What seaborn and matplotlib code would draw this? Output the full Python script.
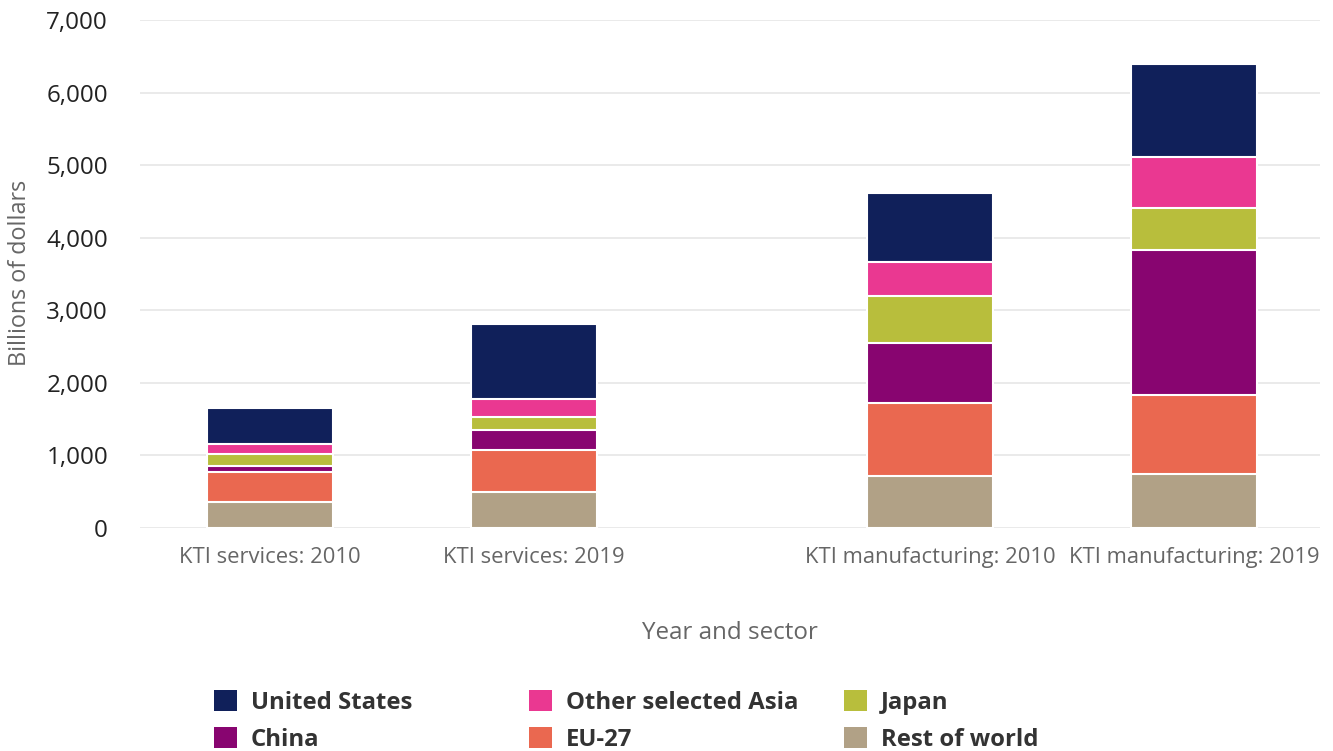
import matplotlib
matplotlib.use("Agg")
import matplotlib.pyplot as plt
from matplotlib.patches import Patch
from matplotlib.ticker import StrMethodFormatter
import numpy as np
import seaborn as sns

categories = ["KTI services: 2010", "KTI services: 2019",
              "KTI manufacturing: 2010", "KTI manufacturing: 2019"]
# stack order, bottom to top
rest_of_world = [357, 496, 718, 746]
eu27 = [417, 583, 1000, 1083]
china = [83, 278, 833, 2000]
japan = [167, 167, 639, 581]
other_asia = [139, 250, 472, 697]
united_states = [486, 1041, 959, 1292]

series = [
    ("Rest of world", rest_of_world, "#b1a186"),
    ("EU-27", eu27, "#ea6850"),
    ("China", china, "#880570"),
    ("Japan", japan, "#b8be3c"),
    ("Other selected Asia", other_asia, "#ea3891"),
    ("United States", united_states, "#10205a"),
]

# gap between the services and the manufacturing group
xpos = [0, 1, 2.5, 3.5]

sns.set_style("white")
plt.rcParams['font.family'] = ['Open Sans', 'DejaVu Sans']

fig = plt.figure(figsize=(13.33, 7.51), dpi=100)
ax = fig.add_axes([140 / 1333, 1 - 528 / 751, 1180 / 1333, 508 / 751])

cum = np.cumsum([s[1] for s in series], axis=0)
for (name, vals, col), tops in reversed(list(zip(series, cum))):
    sns.barplot(x=xpos, y=tops, native_scale=True, color=col, width=0.48,
                saturation=1, edgecolor="white", linewidth=1.5,
                errorbar=None, ax=ax)

ax.set_xlim(-0.492, 3.977)
ax.set_ylim(0, 7000)
ax.set_yticks(range(0, 7001, 1000))
ax.yaxis.set_major_formatter(StrMethodFormatter("{x:,.0f}"))
ax.set_xticks(xpos, categories)

for sp in ax.spines.values():
    sp.set_visible(False)
ax.yaxis.grid(True, color="#e6e6e6", lw=1.2)
ax.set_axisbelow(True)
ax.tick_params(axis="y", length=0, pad=23, labelsize=17.4, labelcolor="#222222")
ax.tick_params(axis="x", length=10, width=1.2, color="#ccd6eb", pad=4,
               labelsize=15.8, labelcolor="#666666")

ax.set_xlabel("Year and sector", fontsize=17.4, color="#666666")
ax.xaxis.set_label_coords(0.5, -0.207)
ax.xaxis.label.set_va("center")
ax.set_ylabel("Billions of dollars", fontsize=16.8, color="#666666")
ax.yaxis.set_label_coords(-0.1017, 0.502)
ax.yaxis.label.set_va("center")

# legend laid out in three fixed-width columns
by_name = {s[0]: s[2] for s in series}
columns = [["United States", "China"],
           ["Other selected Asia", "EU-27"],
           ["Japan", "Rest of world"]]
for i, col_names in enumerate(columns):
    handles = [Patch(facecolor=by_name[n], edgecolor="none") for n in col_names]
    leg = fig.legend(handles, col_names, loc="upper left",
                     bbox_to_anchor=((202 + 315 * i) / 1333, 1 - 678 / 751),
                     frameon=False, handlelength=0.95, handleheight=1.0,
                     handletextpad=0.6, labelspacing=0.5, borderpad=0,
                     prop={"weight": "bold", "size": 17.2})
    for t in leg.get_texts():
        t.set_color("#333333")

fig.savefig("out.png", dpi=100)
